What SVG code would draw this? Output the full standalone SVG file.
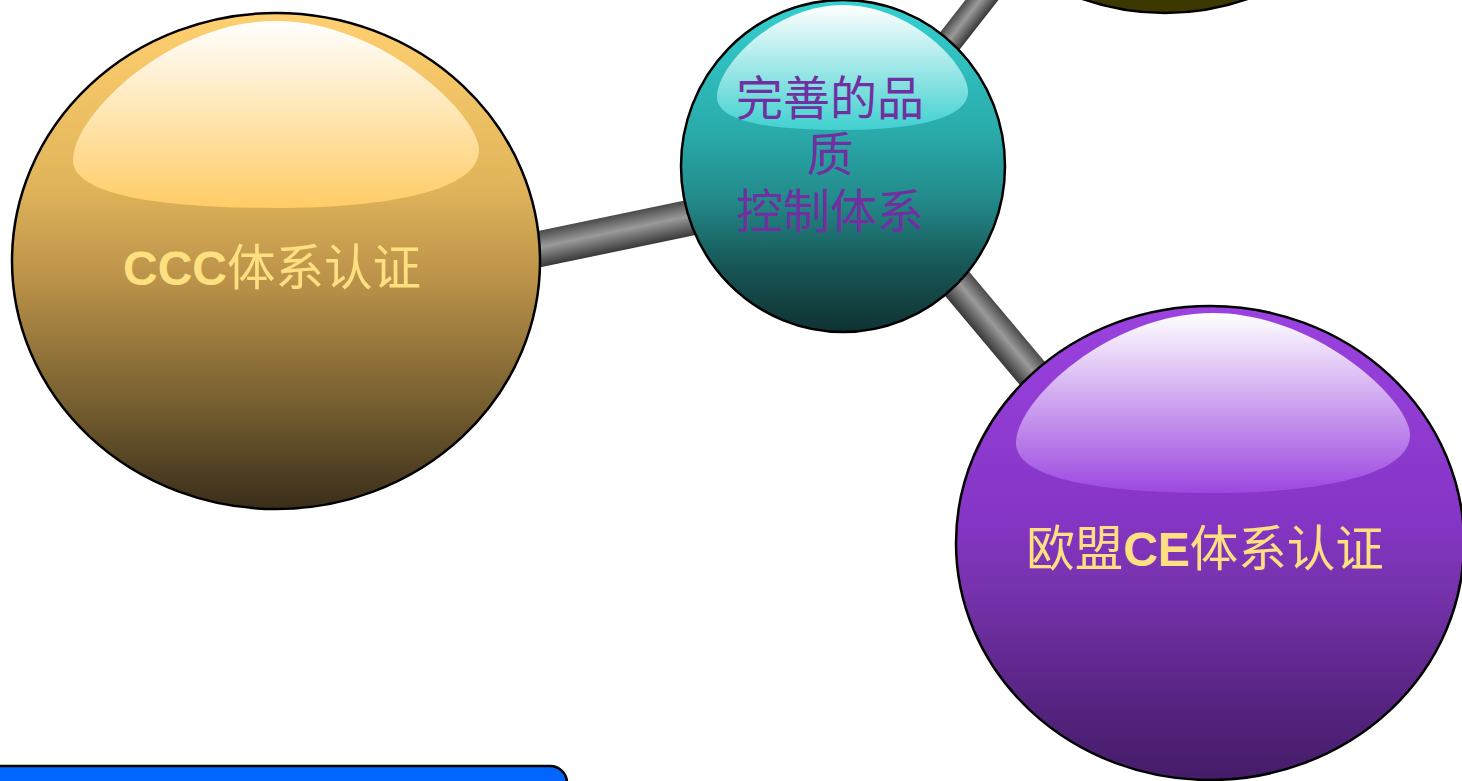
<svg xmlns="http://www.w3.org/2000/svg" width="1462" height="781" viewBox="0 0 1462 781">
<defs>
<linearGradient id="tube" x1="0" y1="0" x2="0" y2="1">
<stop offset="0" stop-color="#4a4a4a"/><stop offset="0.45" stop-color="#9a9a9a"/><stop offset="1" stop-color="#383838"/>
</linearGradient>
<linearGradient id="gGold" x1="0" y1="0" x2="0" y2="1">
<stop offset="0" stop-color="#ffd070"/><stop offset="0.35" stop-color="#e0b45a"/><stop offset="0.55" stop-color="#b89048"/><stop offset="0.78" stop-color="#786030"/><stop offset="1" stop-color="#3a2e1a"/>
</linearGradient>
<linearGradient id="hGold" x1="0" y1="0" x2="0" y2="1">
<stop offset="0" stop-color="#ffffff"/><stop offset="1" stop-color="#ffcc66"/>
</linearGradient>
<linearGradient id="gTeal" x1="0" y1="0" x2="0" y2="1">
<stop offset="0" stop-color="#35d0d0"/><stop offset="0.4" stop-color="#2aaaaa"/><stop offset="0.6" stop-color="#238a8a"/><stop offset="0.8" stop-color="#185656"/><stop offset="1" stop-color="#0f3232"/>
</linearGradient>
<linearGradient id="hTeal" x1="0" y1="0" x2="0" y2="1">
<stop offset="0" stop-color="#ffffff"/><stop offset="1" stop-color="#40d0d0"/>
</linearGradient>
<linearGradient id="gPurple" x1="0" y1="0" x2="0" y2="1">
<stop offset="0" stop-color="#9b42e0"/><stop offset="0.45" stop-color="#8535c5"/><stop offset="0.6" stop-color="#7632ac"/><stop offset="0.85" stop-color="#55237f"/><stop offset="1" stop-color="#441c68"/>
</linearGradient>
<linearGradient id="hPurple" x1="0" y1="0" x2="0" y2="1">
<stop offset="0" stop-color="#ffffff"/><stop offset="1" stop-color="#9c48e0"/>
</linearGradient>
<style>
.ball{stroke:#000;stroke-width:2.5}
.lbl{font-family:"Liberation Sans","Noto Sans CJK SC",sans-serif;font-size:48.5px;text-anchor:middle}
.y{fill:#ffe080}
.p{fill:#7030a0;font-size:47px}
.b{font-weight:bold;font-size:48px}
</style>
</defs>
<g id="connectors">
<rect x="400" y="260" width="408.5" height="36" fill="url(#tube)" transform="rotate(-11.72 400 278)"/>
<rect x="843" y="131" width="368.4" height="34" fill="url(#tube)" transform="rotate(49.96 843 148)"/>
<rect x="852" y="153" width="280.7" height="26" fill="url(#tube)" transform="rotate(-51.95 852 166)"/>
</g>
<g id="node-olive">
<ellipse class="ball" cx="1165" cy="-237" rx="250" ry="250" fill="#3b3900"/>
</g>
<g id="node-ccc">
<ellipse class="ball" cx="276" cy="261" rx="264" ry="248" fill="url(#gGold)"/>
<path d="M73,160 C73,115 170,21 276,21 C382,21 479,115 479,150 C479,190 390,208 276,208 C160,208 73,195 73,160 Z" fill="url(#hGold)"/>
<text class="lbl y" x="272" y="285"><tspan class="b">CCC</tspan>体系认证</text>
</g>
<g id="node-quality">
<ellipse class="ball" cx="843" cy="166" rx="162" ry="166" fill="url(#gTeal)"/>
<path d="M717,97 C717,65 775,5 843,5 C911,5 968,65 968,92 C968,118 915,130 843,130 C770,130 717,122 717,97 Z" fill="url(#hTeal)"/>
<text class="lbl p" x="830" y="115">完善的品</text>
<text class="lbl p" x="830" y="171">质</text>
<text class="lbl p" x="830" y="228">控制体系</text>
</g>
<g id="node-ce">
<ellipse class="ball" cx="1210" cy="543" rx="254" ry="237" fill="url(#gPurple)"/>
<path d="M1016,443 C1016,400 1110,313 1213,313 C1316,313 1410,400 1410,435 C1410,475 1320,493 1213,493 C1105,493 1016,480 1016,443 Z" fill="url(#hPurple)"/>
<text class="lbl y" x="1205" y="566">欧盟<tspan class="b">CE</tspan>体系认证</text>
</g>
<g id="node-bar">
<rect x="-20" y="766" width="587" height="40" rx="17" ry="17" fill="#0066ff" stroke="#000" stroke-width="2.5"/>
</g>
</svg>
